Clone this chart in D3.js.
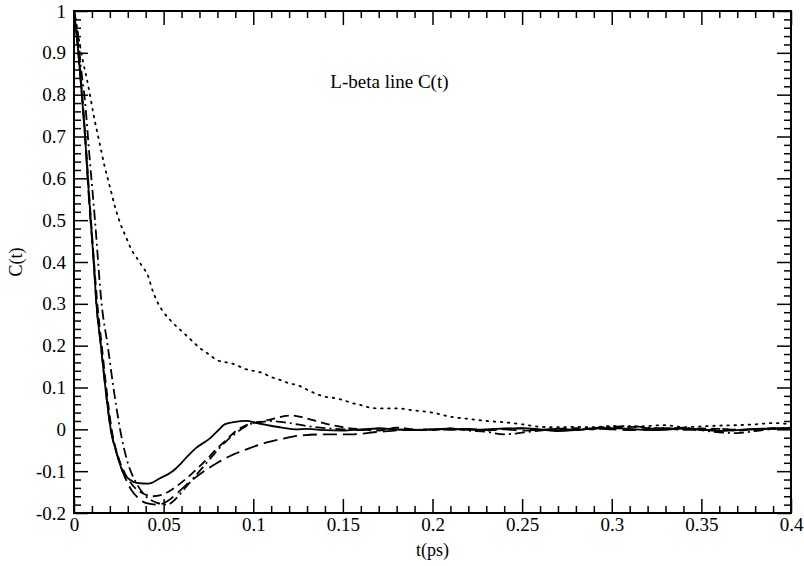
<!DOCTYPE html>
<html>
<head>
<meta charset="utf-8">
<script src="https://cdn.jsdelivr.net/npm/d3@7"></script>
<style>
  html, body { margin: 0; padding: 0; background: #fff; }
  svg text { font-family: 'Liberation Serif', Tinos, 'Times New Roman', Times, 'DejaVu Serif', serif; fill: #000; }
</style>
</head>
<body>
<div id="app"></div>
<script>
// tick values / labels
const xTicks = [0, 0.05, 0.1, 0.15, 0.2, 0.25, 0.3, 0.35, 0.4];
const xTickLabels = ['0', '0.05', '0.1', '0.15', '0.2', '0.25', '0.3', '0.35', '0.4'];
const yTicks = [-0.2, -0.1, 0, 0.1, 0.2, 0.3, 0.4, 0.5, 0.6, 0.7, 0.8, 0.9, 1];
const yTickLabels = ['-0.2', '-0.1', '0', '0.1', '0.2', '0.3', '0.4', '0.5', '0.6', '0.7', '0.8', '0.9', '1'];

// series: [t, C(t)]
const solidSeries = [
  [0, 1], [0.002, 0.92], [0.004, 0.82], [0.006, 0.71], [0.0085, 0.55], [0.011, 0.4], [0.0125, 0.3],
  [0.015, 0.2], [0.0175, 0.1], [0.0205, 0], [0.024, -0.06], [0.027, -0.1], [0.031, -0.12], [0.035, -0.128],
  [0.0415, -0.13], [0.048, -0.117], [0.055, -0.1], [0.06, -0.08], [0.063, -0.066], [0.068, -0.045],
  [0.076, -0.021], [0.081, 0], [0.084, 0.012], [0.09, 0.018], [0.096, 0.02], [0.102, 0.015], [0.108, 0.01],
  [0.116, 0.004], [0.124, 0], [0.13, 0.001], [0.14, -0.002], [0.15, -0.003], [0.16, 0], [0.17, 0.002],
  [0.18, 0], [0.19, -0.002], [0.2, 0], [0.21, 0.001], [0.22, -0.001], [0.23, 0], [0.24, 0.002], [0.25, 0.003],
  [0.26, 0], [0.27, -0.004], [0.28, -0.002], [0.29, 0.002], [0.3, 0.003], [0.31, 0.001], [0.32, -0.002],
  [0.33, -0.001], [0.34, 0.002], [0.35, 0], [0.36, -0.004], [0.37, -0.002], [0.38, 0.001], [0.39, 0.002], [0.4, 0.003]
];
const dashSeries = [
  [0, 1], [0.002, 0.93], [0.004, 0.83], [0.006, 0.72], [0.0085, 0.56], [0.011, 0.41], [0.013, 0.3],
  [0.0155, 0.2], [0.018, 0.1], [0.021, 0], [0.025, -0.07], [0.029, -0.11], [0.033, -0.135], [0.038, -0.152],
  [0.044, -0.16], [0.05, -0.155], [0.056, -0.14], [0.062, -0.12], [0.068, -0.097], [0.074, -0.072],
  [0.08, -0.045], [0.085, -0.025], [0.09, -0.005], [0.095, 0.008], [0.1, 0.015], [0.106, 0.02], [0.112, 0.026],
  [0.118, 0.032], [0.122, 0.033], [0.128, 0.028], [0.135, 0.02], [0.142, 0.012], [0.15, 0.005], [0.16, 0],
  [0.17, -0.003], [0.18, 0.004], [0.19, 0], [0.2, -0.002], [0.21, 0.002], [0.22, 0], [0.23, -0.003],
  [0.24, 0.001], [0.25, 0.002], [0.26, -0.002], [0.27, 0.001], [0.28, 0.003], [0.29, 0], [0.3, 0.004],
  [0.31, 0.006], [0.32, 0.003], [0.33, 0.002], [0.34, -0.001], [0.35, 0.002], [0.36, 0.001], [0.37, -0.003],
  [0.38, 0], [0.39, 0.003], [0.4, 0.002]
];
const dashDotSeries = [
  [0, 1], [0.002, 0.95], [0.004, 0.86], [0.006, 0.79], [0.0085, 0.66], [0.0117, 0.5], [0.0154, 0.3],
  [0.0188, 0.2], [0.022, 0.1], [0.0257, 0], [0.03, -0.08], [0.035, -0.13], [0.04, -0.16], [0.046, -0.175],
  [0.052, -0.18], [0.057, -0.165], [0.062, -0.14], [0.066, -0.12], [0.07, -0.1], [0.075, -0.075],
  [0.08, -0.05], [0.085, -0.028], [0.09, -0.01], [0.095, 0.005], [0.1, 0.015], [0.105, 0.018], [0.11, 0.02],
  [0.115, 0.018], [0.12, 0.015], [0.13, 0.008], [0.14, 0.003], [0.15, 0], [0.16, -0.002], [0.17, 0.002],
  [0.18, 0], [0.19, -0.002], [0.2, -0.001], [0.21, 0.002], [0.22, -0.003], [0.23, -0.006], [0.24, -0.012],
  [0.25, -0.008], [0.26, -0.003], [0.27, 0.001], [0.28, -0.002], [0.29, 0.003], [0.3, 0.006], [0.31, 0.008],
  [0.32, 0.004], [0.33, 0.002], [0.34, 0.004], [0.35, -0.002], [0.36, -0.007], [0.37, -0.009], [0.38, -0.004],
  [0.39, 0.001], [0.4, 0.004]
];
const longDashSeries = [
  [0, 1], [0.002, 0.92], [0.004, 0.82], [0.006, 0.71], [0.0085, 0.54], [0.011, 0.4], [0.0125, 0.3],
  [0.015, 0.2], [0.0175, 0.1], [0.0205, 0], [0.024, -0.06], [0.028, -0.11], [0.032, -0.145], [0.036, -0.165],
  [0.041, -0.177], [0.047, -0.18], [0.052, -0.172], [0.057, -0.155], [0.062, -0.135], [0.07, -0.108],
  [0.08, -0.08], [0.089, -0.06], [0.098, -0.045], [0.107, -0.032], [0.117, -0.022], [0.126, -0.015],
  [0.14, -0.012], [0.154, -0.012], [0.17, -0.006], [0.182, -0.002], [0.2, 0], [0.21, -0.001], [0.22, 0.001],
  [0.23, -0.002], [0.24, 0], [0.25, -0.003], [0.26, -0.001], [0.27, 0.001], [0.28, -0.001], [0.29, 0.002],
  [0.3, 0], [0.31, -0.002], [0.32, 0.001], [0.33, 0.003], [0.34, 0], [0.35, -0.002], [0.36, 0.001],
  [0.37, -0.001], [0.38, 0], [0.39, 0.001], [0.4, 0.002]
];
const dotSeries = [
  [0, 1], [0.002, 0.95], [0.005, 0.88], [0.008, 0.82], [0.011, 0.75], [0.014, 0.69], [0.017, 0.63],
  [0.02, 0.58], [0.023, 0.53], [0.026, 0.49], [0.029, 0.46], [0.032, 0.43], [0.035, 0.41], [0.038, 0.39],
  [0.041, 0.37], [0.044, 0.33], [0.047, 0.3], [0.05, 0.28], [0.055, 0.255], [0.06, 0.235], [0.065, 0.215],
  [0.07, 0.195], [0.075, 0.18], [0.08, 0.165], [0.085, 0.16], [0.09, 0.155], [0.095, 0.145], [0.1, 0.14],
  [0.105, 0.135], [0.11, 0.125], [0.115, 0.118], [0.12, 0.11], [0.125, 0.105], [0.13, 0.095], [0.135, 0.085],
  [0.14, 0.078], [0.145, 0.075], [0.15, 0.07], [0.155, 0.063], [0.16, 0.058], [0.165, 0.052], [0.17, 0.05],
  [0.18, 0.05], [0.19, 0.045], [0.2, 0.04], [0.21, 0.03], [0.22, 0.025], [0.23, 0.02], [0.24, 0.017],
  [0.25, 0.012], [0.26, 0.006], [0.27, 0.005], [0.28, 0.006], [0.29, 0.005], [0.3, 0.008], [0.31, 0.006],
  [0.32, 0.008], [0.33, 0.01], [0.34, 0.005], [0.35, 0.007], [0.36, 0.009], [0.37, 0.01], [0.38, 0.012],
  [0.39, 0.015], [0.4, 0.012]
];

const seriesList = [
  { data: dotSeries, dash: '1.6,5.5' },
  { data: longDashSeries, dash: '14,6' },
  { data: dashSeries, dash: '9,5' },
  { data: dashDotSeries, dash: '10,4,2,4' },
  { data: solidSeries, dash: null }
];

const serif = "'Liberation Serif', Tinos, 'Times New Roman', Times, 'DejaVu Serif', serif";

const outerWidth = 804,
  outerHeight = 566,
  margin = { top: 11, right: 13, bottom: 53, left: 74 },
  width = outerWidth - margin.left - margin.right,
  height = outerHeight - margin.top - margin.bottom;

const svg = d3.select('#app').append('svg')
  .attr('width', outerWidth)
  .attr('height', outerHeight)
  .style('font-family', serif);

const graph = svg.append('g')
  .attr('transform', `translate(${margin.left},${margin.top})`);

const x = d3.scaleLinear().domain([0, 0.4]).range([0, width]);
const y = d3.scaleLinear().domain([-0.2, 1]).range([height, 0]);

const xMinor = d3.range(0, 41).map(d => d / 100).filter(d => Math.round(d * 100) % 5 !== 0);
const yMinor = d3.range(-10, 51).map(d => d / 50).filter(d => Math.round(d * 50) % 5 !== 0);

const fmtX = d => xTickLabels[xTicks.findIndex(v => Math.abs(v - d) < 1e-9)];
const fmtY = d => yTickLabels[yTicks.findIndex(v => Math.abs(v - d) < 1e-9)];

function styleAxis(g) {
  g.attr('font-family', serif);
  g.select('.domain').remove();
  g.selectAll('line').attr('stroke', '#000').attr('stroke-width', 1.5);
  g.selectAll('text').attr('font-size', 19).attr('fill', '#000').style('font-family', serif);
}

// bottom
graph.append('g').attr('transform', `translate(0,${height})`)
  .call(d3.axisBottom(x).tickValues(xMinor).tickSize(-7).tickFormat(''))
  .call(styleAxis);
graph.append('g').attr('transform', `translate(0,${height})`)
  .call(d3.axisBottom(x).tickValues(xTicks).tickSize(-14).tickPadding(4).tickFormat(fmtX))
  .call(styleAxis)
  .selectAll('text').attr('dy', '0.75em');
// top
graph.append('g')
  .call(d3.axisTop(x).tickValues(xMinor).tickSize(-7).tickFormat(''))
  .call(styleAxis);
graph.append('g')
  .call(d3.axisTop(x).tickValues(xTicks).tickSize(-14).tickFormat(''))
  .call(styleAxis);
// left
graph.append('g')
  .call(d3.axisLeft(y).tickValues(yMinor).tickSize(-7).tickFormat(''))
  .call(styleAxis);
graph.append('g')
  .call(d3.axisLeft(y).tickValues(yTicks).tickSize(-14).tickPadding(8).tickFormat(fmtY))
  .call(styleAxis);
// right
graph.append('g').attr('transform', `translate(${width},0)`)
  .call(d3.axisRight(y).tickValues(yMinor).tickSize(-7).tickFormat(''))
  .call(styleAxis);
graph.append('g').attr('transform', `translate(${width},0)`)
  .call(d3.axisRight(y).tickValues(yTicks).tickSize(-14).tickFormat(''))
  .call(styleAxis);

// frame
graph.append('rect')
  .attr('width', width)
  .attr('height', height)
  .attr('fill', 'none')
  .attr('stroke', '#000')
  .attr('stroke-width', 2);

const line = d3.line()
  .x(d => x(d[0]))
  .y(d => y(d[1]))
  .curve(d3.curveMonotoneX);

graph.append('g')
  .attr('fill', 'none')
  .attr('stroke', '#000')
  .attr('stroke-width', 1.8)
.selectAll('path')
.data(seriesList)
.enter().append('path')
  .attr('stroke-dasharray', d => d.dash)
  .attr('stroke-linecap', d => d.dash === '1.6,5.5' ? 'round' : 'butt')
  .attr('d', d => line(d.data));

// title and axis labels
graph.append('text')
  .attr('x', x(0.143))
  .attr('y', 77)
  .attr('font-size', 19)
  .text('L-beta line C(t)');

svg.append('text')
  .attr('x', margin.left + width / 2)
  .attr('y', 556)
  .attr('text-anchor', 'middle')
  .attr('font-size', 18)
  .text('t(ps)');

svg.append('text')
  .attr('transform', `translate(22,${margin.top + y(0.4)}) rotate(-90)`)
  .attr('text-anchor', 'middle')
  .attr('font-size', 18)
  .text('C(t)');
</script>
</body>
</html>
